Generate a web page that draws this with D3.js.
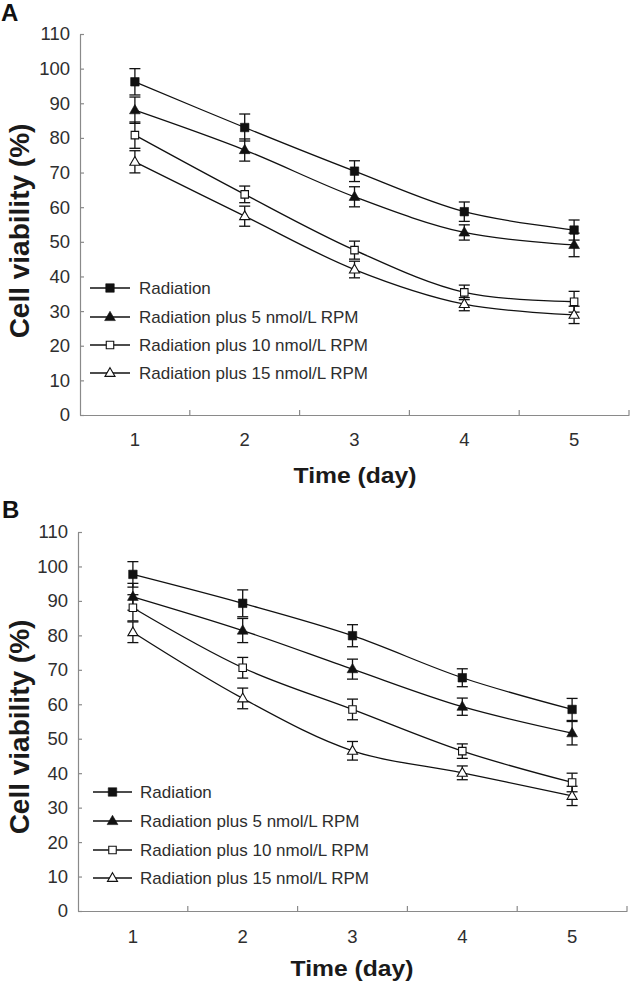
<!DOCTYPE html>
<html>
<head>
<meta charset="utf-8">
<script src="https://cdn.jsdelivr.net/npm/d3@7"></script>
<style>
  html, body { margin: 0; padding: 0; background: #fff; }
  svg { display: block; }
  text { font-family: Arial, "Liberation Sans", Helvetica, sans-serif; }
</style>
</head>
<body>
<svg id="chart" width="630" height="982"></svg>
<script>
// ---------------- DATA ----------------
const days = [1, 2, 3, 4, 5];
const seriesNames = [
  "Radiation",
  "Radiation plus 5 nmol/L RPM",
  "Radiation plus 10 nmol/L RPM",
  "Radiation plus 15 nmol/L RPM"
];
const markerTypes = ["squareFilled", "triangleFilled", "squareOpen", "triangleOpen"];
const yTicks = [0, 10, 20, 30, 40, 50, 60, 70, 80, 90, 100, 110];
const xTickLabels = ["1", "2", "3", "4", "5"];
const panelLabels = ["A", "B"];
const yTitle = "Cell viability (%)";
const xTitle = "Time (day)";

// Panel A values (mean) and error (half-range)
const aRadiation = [96.2, 83.0, 70.4, 58.7, 53.4];
const aRpm5      = [88.0, 76.5, 63.0, 52.7, 49.1];
const aRpm10     = [80.8, 63.7, 47.6, 35.4, 32.7];
const aRpm15     = [73.1, 57.4, 42.0, 32.0, 28.9];
const aRadiationErr = [3.8, 3.9, 3.0, 2.8, 2.9];
const aRpm5Err      = [3.8, 3.2, 2.9, 2.2, 3.4];
const aRpm10Err     = [3.8, 2.4, 2.6, 2.1, 3.0];
const aRpm15Err     = [3.2, 2.9, 2.4, 1.9, 2.5];

// Panel B values (mean) and error (half-range)
const bRadiation = [97.7, 89.3, 79.9, 67.7, 58.5];
const bRpm5      = [91.2, 81.4, 70.2, 59.3, 51.6];
const bRpm10     = [88.0, 70.6, 58.5, 46.4, 37.3];
const bRpm15     = [80.9, 61.7, 46.5, 40.1, 33.4];
const bRadiationErr = [3.7, 3.9, 3.2, 2.6, 3.2];
const bRpm5Err      = [3.9, 3.5, 2.9, 2.5, 3.4];
const bRpm10Err     = [3.8, 3.0, 3.0, 2.1, 2.7];
const bRpm15Err     = [3.0, 3.0, 2.7, 2.0, 2.8];

// ---------------- LAYOUT ----------------
const panels = [
  {
    label: panelLabels[0],
    values: [aRadiation, aRpm5, aRpm10, aRpm15],
    errors: [aRadiationErr, aRpm5Err, aRpm10Err, aRpm15Err],
    x0: 80, x1: 629, yBottom: 415, yTop: 34,
    labelPos: [1, 21],
    yTitlePos: [29, 231],
    xTitlePos: [355, 483],
    xTickBaseline: 446,
    legend: { lineX0: 90, lineX1: 130, textX: 139, rows: [288, 317, 345, 373] }
  },
  {
    label: panelLabels[1],
    values: [bRadiation, bRpm5, bRpm10, bRpm15],
    errors: [bRadiationErr, bRpm5Err, bRpm10Err, bRpm15Err],
    x0: 78, x1: 627, yBottom: 911, yTop: 532,
    labelPos: [2, 518],
    yTitlePos: [29, 727],
    xTitlePos: [352, 976],
    xTickBaseline: 943,
    legend: { lineX0: 93, lineX1: 132, textX: 140, rows: [792, 821, 850, 878] }
  }
];

const svg = d3.select("#chart");
const axisColor = "#8a8a8a";
const textColor = "#2e2e2e";

function drawMarker(g, type, cx, cy) {
  const filled = type.endsWith("Filled");
  const isSquare = type.startsWith("square");
  const sym = d3.symbol()
    .type(isSquare ? d3.symbolSquare : d3.symbolTriangle)
    .size(isSquare ? (filled ? 72 : 56) : (filled ? 50 : 44));
  g.append("path")
    .attr("d", sym())
    .attr("transform", `translate(${cx},${cy + (isSquare ? 0 : 0.5)})`)
    .attr("fill", filled ? "#111" : "#fff")
    .attr("stroke", "#111")
    .attr("stroke-width", filled ? 0.6 : 1.1);
}

panels.forEach(p => {
  const g = svg.append("g");

  const x = d3.scaleBand().domain(days).range([p.x0, p.x1]).padding(0);
  const y = d3.scaleLinear().domain([0, 110]).range([p.yBottom, p.yTop]);
  const cx = d => x(d) + x.bandwidth() / 2;

  // Panel letter
  g.append("text")
    .attr("x", p.labelPos[0]).attr("y", p.labelPos[1])
    .attr("font-size", 24).attr("font-weight", "bold").attr("fill", "#111")
    .text(p.label);

  // Y axis
  const yAxis = d3.axisLeft(y).tickValues(yTicks).tickSize(-4).tickPadding(10).tickSizeOuter(0);
  const yg = g.append("g").attr("transform", `translate(${p.x0},0)`).call(yAxis);
  yg.select(".domain").attr("stroke", axisColor).attr("stroke-width", 1.2);
  yg.selectAll(".tick line").attr("stroke", axisColor).attr("stroke-width", 1.2);
  yg.selectAll(".tick text").attr("font-size", 18.5).attr("fill", textColor)
    .attr("font-family", "Arial, 'Liberation Sans', sans-serif");

  // X axis: labels at band centres, tick marks at band boundaries (pointing up)
  const xAxis = d3.axisBottom(x).tickSize(0).tickPadding(0).tickSizeOuter(0)
    .tickFormat((d, i) => xTickLabels[i]);
  const xg = g.append("g").attr("transform", `translate(0,${p.yBottom})`).call(xAxis);
  xg.select(".domain").attr("stroke", axisColor).attr("stroke-width", 1.2);
  xg.selectAll(".tick text")
    .attr("font-size", 18.5).attr("fill", textColor)
    .attr("dy", null)
    .attr("y", p.xTickBaseline - p.yBottom)
    .attr("font-family", "Arial, 'Liberation Sans', sans-serif");
  const bounds = days.map(d => x(d)).concat([x(days[days.length - 1]) + x.bandwidth()]).slice(1);
  g.append("g").selectAll("line").data(bounds).join("line")
    .attr("x1", d => d).attr("x2", d => d)
    .attr("y1", p.yBottom).attr("y2", p.yBottom - 5)
    .attr("stroke", axisColor).attr("stroke-width", 1.2);

  // Axis titles
  g.append("text")
    .attr("transform", `translate(${p.yTitlePos[0]},${p.yTitlePos[1]}) rotate(-90)`)
    .attr("text-anchor", "middle")
    .attr("font-size", 28).attr("font-weight", "bold").attr("fill", "#1a1a1a")
    .text(yTitle);
  g.append("text")
    .attr("x", p.xTitlePos[0]).attr("y", p.xTitlePos[1])
    .attr("text-anchor", "middle")
    .attr("font-size", 22).attr("font-weight", "bold").attr("fill", "#1a1a1a")
    .attr("textLength", 123).attr("lengthAdjust", "spacingAndGlyphs")
    .text(xTitle);

  // Series
  const line = d3.line().x((d, i) => cx(days[i])).y(d => y(d)).curve(d3.curveCatmullRom.alpha(0.5));
  p.values.forEach((vals, si) => {
    g.append("path").attr("d", line(vals))
      .attr("fill", "none").attr("stroke", "#111").attr("stroke-width", 1.3);
  });
  p.values.forEach((vals, si) => {
    const errs = p.errors[si];
    const eg = g.append("g").attr("stroke", "#111").attr("stroke-width", 1.3);
    vals.forEach((v, i) => {
      const xc = cx(days[i]);
      eg.append("line").attr("x1", xc).attr("x2", xc).attr("y1", y(v - errs[i])).attr("y2", y(v + errs[i]));
      [v - errs[i], v + errs[i]].forEach(e => {
        eg.append("line").attr("x1", xc - 5.5).attr("x2", xc + 5.5).attr("y1", y(e)).attr("y2", y(e));
      });
    });
  });
  p.values.forEach((vals, si) => {
    vals.forEach((v, i) => drawMarker(g, markerTypes[si], cx(days[i]), y(v)));
  });

  // Legend
  const L = p.legend;
  seriesNames.forEach((name, si) => {
    const ry = L.rows[si];
    g.append("line").attr("x1", L.lineX0).attr("x2", L.lineX1).attr("y1", ry).attr("y2", ry)
      .attr("stroke", "#111").attr("stroke-width", 1.3);
    drawMarker(g, markerTypes[si], (L.lineX0 + L.lineX1) / 2, ry);
    g.append("text").attr("x", L.textX).attr("y", ry).attr("dy", "0.35em")
      .attr("font-size", 17).attr("fill", textColor).text(name);
  });
});
</script>
</body>
</html>
